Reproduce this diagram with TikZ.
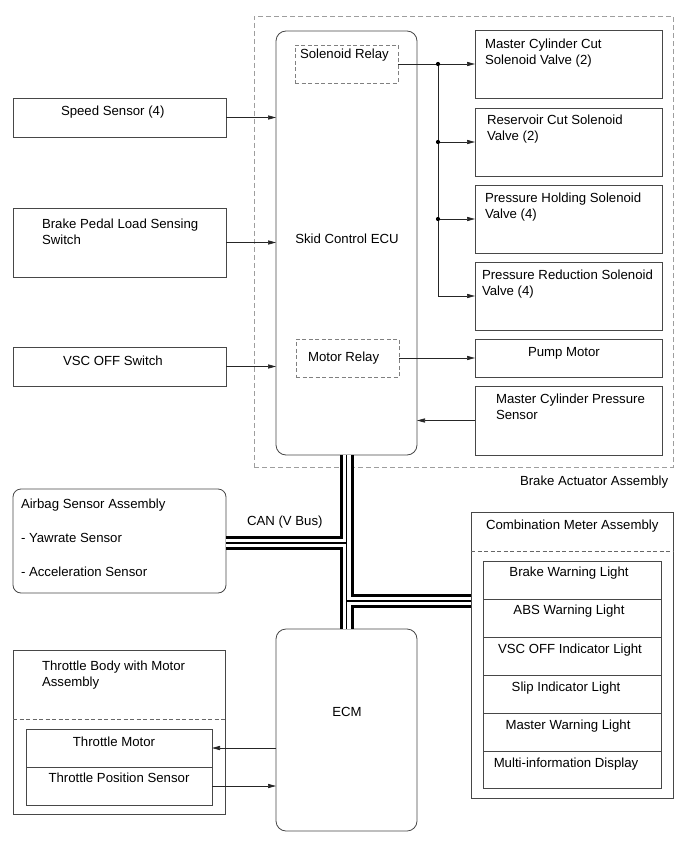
\documentclass[tikz,border=0pt]{standalone}
\usepackage{fontspec}
\setmainfont{Liberation Sans}
\usetikzlibrary{arrows.meta}
\begin{document}
\begin{tikzpicture}[x=1pt,y=-1pt,
  every node/.style={font=\fontsize{13.2}{16}\selectfont, inner sep=0pt, outer sep=0pt},
  box/.style={draw=black!72, line width=0.8pt, anchor=north west},
  rbox/.style={box, rounded corners=10pt},
  dbox/.style={draw=black!38, line width=0.9pt, dash pattern=on 5pt off 3pt, anchor=north west},
  rdbox/.style={draw=black!50, line width=0.8pt, dash pattern=on 4pt off 2.5pt, anchor=north west},
  divd/.style={draw=black!60, line width=0.8pt, dash pattern=on 4pt off 2.5pt},
  lbl/.style={anchor=base west},
  clbl/.style={anchor=base},
  arr/.style={draw=black!85, line width=0.7pt, -{Triangle[length=8pt,width=4.2pt]}},
  ln/.style={draw=black!85, line width=0.7pt},
  dot/.style={fill=black, circle, minimum size=4.2pt, inner sep=0pt}
]
\path[use as bounding box] (0,0) rectangle (690,853);

% Brake actuator assembly
\node[dbox, minimum width=419, minimum height=451] (bact) at (254,16) {};
\node[lbl] (bactT) at (520,485) {Brake Actuator Assembly};

% Skid control ECU
\node[rbox, minimum width=141, minimum height=424] (ecu) at (276,31) {};
\node[clbl] (ecuT) at (347,243) {Skid Control ECU};
\node[rdbox, minimum width=103, minimum height=38] (srelay) at (295,45) {};
\node[lbl] (srelayT) at (300,59) {Solenoid Relay};
\node[rdbox, minimum width=103, minimum height=38] (mrelay) at (296,339) {};
\node[lbl] (mrelayT) at (308,361) {Motor Relay};

% Right boxes
\node[box, minimum width=187, minimum height=68] (mcc) at (475,30) {};
\node[lbl] (mccT1) at (485,49) {Master Cylinder Cut};
\node[lbl] (mccT2) at (485,65) {Solenoid Valve (2)};
\node[box, minimum width=187, minimum height=68] (res) at (475,108) {};
\node[lbl] (resT1) at (487,125) {Reservoir Cut Solenoid};
\node[lbl] (resT2) at (487,141) {Valve (2)};
\node[box, minimum width=187, minimum height=68] (phold) at (475,185) {};
\node[lbl] (pholdT1) at (485,202) {Pressure Holding Solenoid};
\node[lbl] (pholdT2) at (485,218) {Valve (4)};
\node[box, minimum width=187, minimum height=68] (pred) at (475,262) {};
\node[lbl] (predT1) at (482,279) {Pressure Reduction Solenoid};
\node[lbl] (predT2) at (482,295) {Valve (4)};
\node[box, minimum width=187, minimum height=38] (pump) at (475,339) {};
\node[lbl] (pumpT) at (528,356) {Pump Motor};
\node[box, minimum width=187, minimum height=69] (mcps) at (475,386) {};
\node[lbl] (mcpsT1) at (496,403) {Master Cylinder Pressure};
\node[lbl] (mcpsT2) at (496,419) {Sensor};

% Left boxes
\node[box, minimum width=213, minimum height=39] (speed) at (13,98) {};
\node[lbl] (speedT) at (61,116) {Speed Sensor (4)};
\node[box, minimum width=213, minimum height=69] (bpl) at (13,208) {};
\node[lbl] (bplT1) at (42,228) {Brake Pedal Load Sensing};
\node[lbl] (bplT2) at (42,244) {Switch};
\node[box, minimum width=213, minimum height=39] (vsc) at (13,347) {};
\node[lbl] (vscT) at (63,365) {VSC OFF Switch};

% Airbag
\node[box, rounded corners=8pt, minimum width=213, minimum height=104] (airbag) at (13,489) {};
\node[lbl] (abT1) at (21,508) {Airbag Sensor Assembly};
\node[lbl] (abT2) at (21,542) {- Yawrate Sensor};
\node[lbl] (abT3) at (21,576) {- Acceleration Sensor};
\node[lbl] (canT) at (247,525) {CAN (V Bus)};

% Combination meter
\node[box, minimum width=202, minimum height=286] (cm) at (471,512) {};
\draw[divd] (cm.west |- 0,551) -- (cm.east |- 0,551);
\node[lbl] (cmT) at (486,529) {Combination Meter Assembly};
\node[box, minimum width=178, minimum height=38] (r1) at (483,561) {};
\node[box, minimum width=178, minimum height=38] (r2) at (483,599) {};
\node[box, minimum width=178, minimum height=38] (r3) at (483,637) {};
\node[box, minimum width=178, minimum height=38] (r4) at (483,675) {};
\node[box, minimum width=178, minimum height=38] (r5) at (483,713) {};
\node[box, minimum width=178, minimum height=37] (r6) at (483,751) {};
\node[clbl] (r1T) at (569,576) {Brake Warning Light};
\node[clbl] (r2T) at (569,614) {ABS Warning Light};
\node[clbl] (r3T) at (570,653) {VSC OFF Indicator Light};
\node[clbl] (r4T) at (566,691) {Slip Indicator Light};
\node[clbl] (r5T) at (568,729) {Master Warning Light};
\node[clbl] (r6T) at (566,767) {Multi-information Display};

% ECM
\node[rbox, minimum width=141, minimum height=202] (ecm) at (276,629) {};
\node[clbl] (ecmT) at (347,716) {ECM};

% Throttle body
\node[box, minimum width=212, minimum height=164] (tb) at (13,650) {};
\draw[divd] (tb.west |- 0,719) -- (tb.east |- 0,719);
\node[lbl] (tbT1) at (42,670) {Throttle Body with Motor};
\node[lbl] (tbT2) at (42,686) {Assembly};
\node[box, minimum width=186, minimum height=38] (tm) at (26,729) {};
\node[box, minimum width=186, minimum height=38] (tps) at (26,767) {};
\node[clbl] (tmT) at (114,746) {Throttle Motor};
\node[clbl] (tpsT) at (119,782) {Throttle Position Sensor};

% Connectors, left inputs
\draw[arr] (speed.east) -- (speed.east -| ecu.west);
\draw[arr] (bpl.east) -- (bpl.east -| ecu.west);
\draw[arr] (vsc.east) -- (vsc.east -| ecu.west);

% Solenoid relay branches
\coordinate (sp) at (438,0);
\draw[arr] (srelay.east) -- (srelay.east -| mcc.west);
\draw[ln] (srelay.east -| sp) -- (pred.west -| sp);
\draw[arr] (res.west -| sp) -- (res.west);
\draw[arr] (phold.west -| sp) -- (phold.west);
\draw[arr] (pred.west -| sp) -- (pred.west);
\node[dot] (d1) at (srelay.east -| sp) {};
\node[dot] (d2) at (res.west -| sp) {};
\node[dot] (d3) at (phold.west -| sp) {};

\draw[arr] (mrelay.east) -- (mrelay.east -| pump.west);
\draw[arr] (mcps.west) -- (mcps.west -| ecu.east);

% Throttle
\draw[arr] (tm.east -| ecm.west) -- (tm.east);
\draw[arr] (tps.east) -- (tps.east -| ecm.west);

% CAN bus
\coordinate (j1) at (346.5,543);
\coordinate (j2) at (346.5,601);
\foreach \w/\c in {14/black, 8/white, 1.1/black}{
  \draw[line width=\w pt, color=\c] (ecu.south) -- (ecm.north);
  \draw[line width=\w pt, color=\c] (j1 -| airbag.east) -- (j1);
  \draw[line width=\w pt, color=\c] (j2) -- (j2 -| cm.west);
}
\end{tikzpicture}
\end{document}
